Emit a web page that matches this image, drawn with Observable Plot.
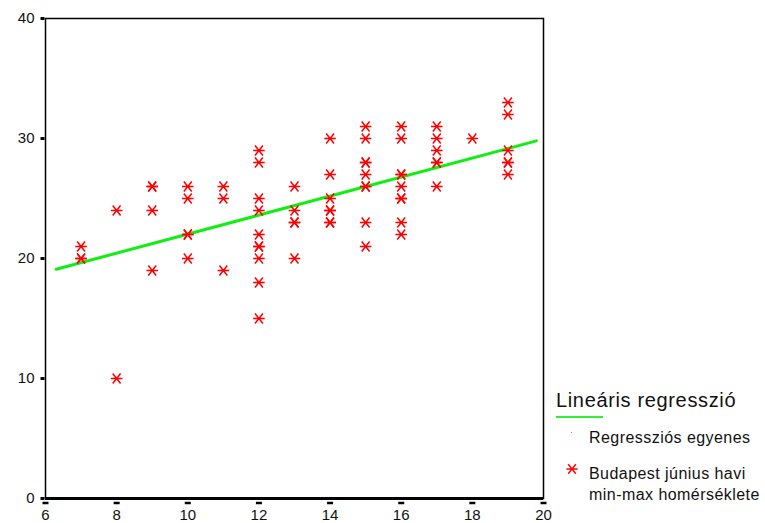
<!DOCTYPE html>
<html>
<head>
<meta charset="utf-8">
<script src="https://cdn.jsdelivr.net/npm/d3@7"></script>
<script src="https://cdn.jsdelivr.net/npm/@observablehq/plot@0.6"></script>
<style>
  body { margin: 0; background: #fff; }
  #wrap { position: relative; width: 765px; height: 523px; font-family: Arial, "Liberation Sans", sans-serif; color: #111; }
  #wrap svg.plot { position: absolute; left: 0; top: 0; }
  .lg { position: absolute; white-space: nowrap; line-height: 1; }
  .lg-title { left: 556px; top: 390px; font-size: 20px; letter-spacing: 0.65px; }
  .lg-line { left: 556px; top: 416px; width: 47px; height: 2px; background: #33ee33; }
  .lg-dot { left: 571px; top: 432px; width: 1px; height: 1px; background: #33cc33; }
  .lg-item { left: 589px; font-size: 16px; letter-spacing: 0.45px; }
  .lg-sym { left: 566px; top: 463px; }
</style>
</head>
<body>
<div id="wrap"></div>
<script>
// June daily minimum (x) and maximum (y) temperatures, Budapest
const minTemp = [
  7, 7, 7,
  8, 8,
  9, 9, 9, 9,
  10, 10, 10, 10, 10,
  11, 11, 11,
  12, 12, 12, 12, 12, 12, 12, 12, 12, 12,
  13, 13, 13, 13, 13,
  14, 14, 14, 14, 14, 14, 14,
  15, 15, 15, 15, 15, 15, 15, 15, 15,
  16, 16, 16, 16, 16, 16, 16, 16, 16,
  17, 17, 17, 17, 17, 17,
  18,
  19, 19, 19, 19, 19, 19
];
const maxTemp = [
  21, 20, 20,
  24, 10,
  26, 26, 24, 19,
  26, 25, 22, 22, 20,
  26, 25, 19,
  29, 28, 25, 24, 22, 21, 21, 20, 18, 15,
  26, 24, 23, 23, 20,
  30, 27, 25, 24, 24, 23, 23,
  31, 30, 28, 28, 27, 26, 26, 23, 21,
  31, 30, 27, 27, 26, 25, 25, 23, 22,
  31, 30, 29, 28, 28, 26,
  30,
  33, 32, 29, 28, 28, 27
];

// Fitted regression line, drawn between its two end points
const regX = [6.3, 19.8];
const regY = [19.1, 29.8];

const xTicks = [6, 8, 10, 12, 14, 16, 18, 20];
const yTicks = [0, 10, 20, 30, 40];

const points = minTemp.map((m, i) => ({min: m, max: maxTemp[i]}));
const reg = regX.map((x, i) => ({x, y: regY[i]}));

// Marker shapes
const asterisk = {
  draw(ctx, size) {
    const r = Math.sqrt(size / Math.PI);
    const a = r * 0.68, b = r * 0.86;
    ctx.moveTo(-r, 0); ctx.lineTo(r, 0);
    ctx.moveTo(-a, -b); ctx.lineTo(a, b);
    ctx.moveTo(-a, b); ctx.lineTo(a, -b);
  }
};
const square = { draw(ctx) { ctx.rect(-2, -1.5, 4, 3); } };
const dash = { draw(ctx) { ctx.rect(-3, -1.25, 6, 2.5); } };

const chart = Plot.plot({
  width: 765,
  height: 523,
  marginLeft: 45,
  marginRight: 222,
  marginTop: 18,
  marginBottom: 25,
  style: { fontFamily: 'Arial, "Liberation Sans", sans-serif', fontSize: "14.5px", color: "#111", background: "white" },
  x: { domain: [6, 20] },
  y: { domain: [0, 40] },
  marks: [
    Plot.frame({ stroke: "black", strokeWidth: 1.5 }),
    Plot.ruleY([0], { stroke: "black", strokeWidth: 3 }),
    Plot.axisX(xTicks, { tickSize: 0, tickPadding: 11, label: null, fontSize: 15 }),
    Plot.axisY(yTicks, { tickSize: 0, tickPadding: 11, label: null, fontSize: 15 }),
    Plot.dot(yTicks, { x: 6, y: d => d, symbol: square, fill: "black", stroke: null, dx: -3 }),
    Plot.dot(xTicks, { x: d => d, y: 0, symbol: dash, fill: "black", stroke: null, dy: 4.5 }),
    Plot.line(reg, { x: "x", y: "y", stroke: "#11ee11", strokeWidth: 3 }),
    Plot.dot(points, { x: "min", y: "max", symbol: asterisk, r: 5.8, stroke: "#ff0000", fill: "none", strokeWidth: 1.5 })
  ]
});

const wrap = document.getElementById("wrap");
wrap.appendChild(chart);

// Legend
const legend = `
  <div class="lg lg-title">Lineáris regresszió</div>
  <div class="lg lg-line"></div>
  <div class="lg lg-dot"></div>
  <div class="lg lg-item" style="top:430px">Regressziós egyenes</div>
  <svg class="lg lg-sym" width="12" height="12" viewBox="-6 -6 12 12">
    <path d="M-5.6,0L5.6,0M-3.8,-4.8L3.8,4.8M-3.8,4.8L3.8,-4.8" stroke="#ff0000" stroke-width="1.4" fill="none"/>
  </svg>
  <div class="lg lg-item" style="top:466px">Budapest június havi</div>
  <div class="lg lg-item" style="top:487px">min-max homérséklete</div>
`;
wrap.insertAdjacentHTML("beforeend", legend);
</script>
</body>
</html>
